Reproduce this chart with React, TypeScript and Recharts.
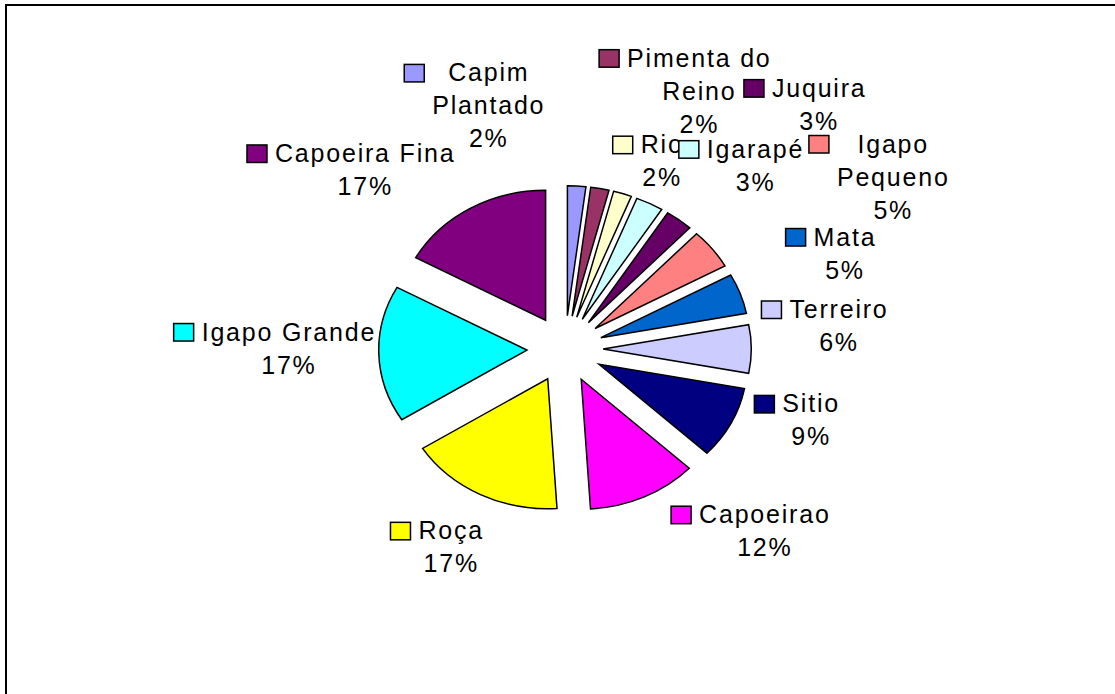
import React from 'react';
import { PieChart, Pie } from 'recharts';

const categories = [
  'Capim Plantado', 'Pimenta do Reino', 'Rio', 'Igarapé', 'Juquira', 'Igapo Pequeno', 'Mata',
  'Terreiro', 'Sitio', 'Capoeirao', 'Roça', 'Igapo Grande', 'Capoeira Fina',
];
const shares = [2, 2, 2, 3, 3, 5, 5, 6, 9, 12, 17, 17, 17];
// label text as it wraps in the original
const labelLines = [
  ['Capim', 'Plantado'], ['Pimenta do', 'Reino'], ['Rio'], ['Igarapé'], ['Juquira'], ['Igapo', 'Pequeno'],
  ['Mata'], ['Terreiro'], ['Sitio'], ['Capoeirao'], ['Roça'], ['Igapo Grande'], ['Capoeira Fina'],
];
const colors = [
  '#9999FF', '#993366', '#FFFFCC', '#CCFFFF', '#660066', '#FF8080', '#0066CC',
  '#CCCCFF', '#000080', '#FF00FF', '#FFFF00', '#00FFFF', '#800080',
];
// shift of each label away from its default spot outside the slice
const labelNudge = [
  [-92, -60], [89, -78], [23, 2], [82, -6], [108, -88], [140, -69], [56, -33],
  [36, -31], [34, -31], [98, -14], [-7, 5], [-40, -15], [-80, -8],
];

const data = categories.map((name, i) => ({ name, value: shares[i] }));

const RAD = Math.PI / 180;
const STRETCH = 1.14; // pie is drawn a bit wider than tall
const EXPLODE = 0.257;
const LABEL_R = 1.6;
const FONT = '"Liberation Sans", Arial, sans-serif';
const FONT_SIZE = 25;
const LS = 1.8;
const LINE_H = 33;

let ctx: CanvasRenderingContext2D | null = null;
const textWidth = (s: string) => {
  if (!ctx) {
    ctx = document.createElement('canvas').getContext('2d');
  }
  if (!ctx) return s.length * 14;
  ctx.font = `${FONT_SIZE}px ${FONT}`;
  return ctx.measureText(s).width + LS * (s.length - 1);
};

const renderSlice = (p: any) => {
  const { cx, cy, outerRadius, startAngle, endAngle, percent, index } = p;
  const mid = p.midAngle ?? (startAngle + endAngle) / 2;
  const ry = outerRadius;
  const rx = outerRadius * STRETCH;
  const pt = (a: number, k: number) => [cx + rx * k * Math.cos(a * RAD), cy - ry * k * Math.sin(a * RAD)];
  const [ox, oy] = pt(mid, EXPLODE);
  const dx = ox - cx;
  const dy = oy - cy;
  const [x1, y1] = pt(startAngle, 1);
  const [x2, y2] = pt(endAngle, 1);
  const large = Math.abs(startAngle - endAngle) > 180 ? 1 : 0;
  const sweep = startAngle > endAngle ? 1 : 0;
  const d = `M${ox},${oy} L${x1 + dx},${y1 + dy} A${rx},${ry} 0 ${large} ${sweep} ${x2 + dx},${y2 + dy} Z`;

  const [bx, by] = pt(mid, LABEL_R);
  const ax = bx + labelNudge[index][0];
  const ay = by + labelNudge[index][1];
  const lines = [...labelLines[index], `${Math.round(percent * 100)}%`];
  const widest = Math.max(...labelLines[index].map(textWidth));
  const sqRight = ax - widest / 2 - 8;

  return (
    <g key={`slice-${index}`}>
      <path d={d} fill={colors[index]} stroke="#000" strokeWidth={1.5} strokeLinejoin="miter" />
      <rect x={sqRight - 20} y={ay - 17} width={20} height={17.5} fill={colors[index]} stroke="#000" strokeWidth={1.5} />
      {lines.map((t, k) => (
        <text
          key={k}
          x={ax + LS / 2}
          y={ay + k * LINE_H}
          textAnchor="middle"
          fontFamily={FONT}
          fontSize={FONT_SIZE}
          letterSpacing={LS}
          fill="#000"
        >
          {t}
        </text>
      ))}
    </g>
  );
};

export default function App() {
  return (
    <>
      <div
        style={{
          position: 'absolute',
          left: 5,
          top: 4,
          width: 1108,
          height: 688,
          borderTop: '2px solid #000',
          borderLeft: '2px solid #000',
        }}
      />
      <div style={{ position: 'absolute', left: 0, top: 0, width: 1115, height: 694 }}>
        <PieChart width={1115} height={694} margin={{ top: 0, right: 0, bottom: 0, left: 0 }}>
          <Pie
            data={data}
            dataKey="value"
            nameKey="name"
            cx={565}
            cy={349}
            outerRadius={130}
            startAngle={90}
            endAngle={-270}
            fill="none"
            stroke="none"
            label={renderSlice}
            labelLine={false}
            isAnimationActive={false}
          />
        </PieChart>
      </div>
    </>
  );
}
